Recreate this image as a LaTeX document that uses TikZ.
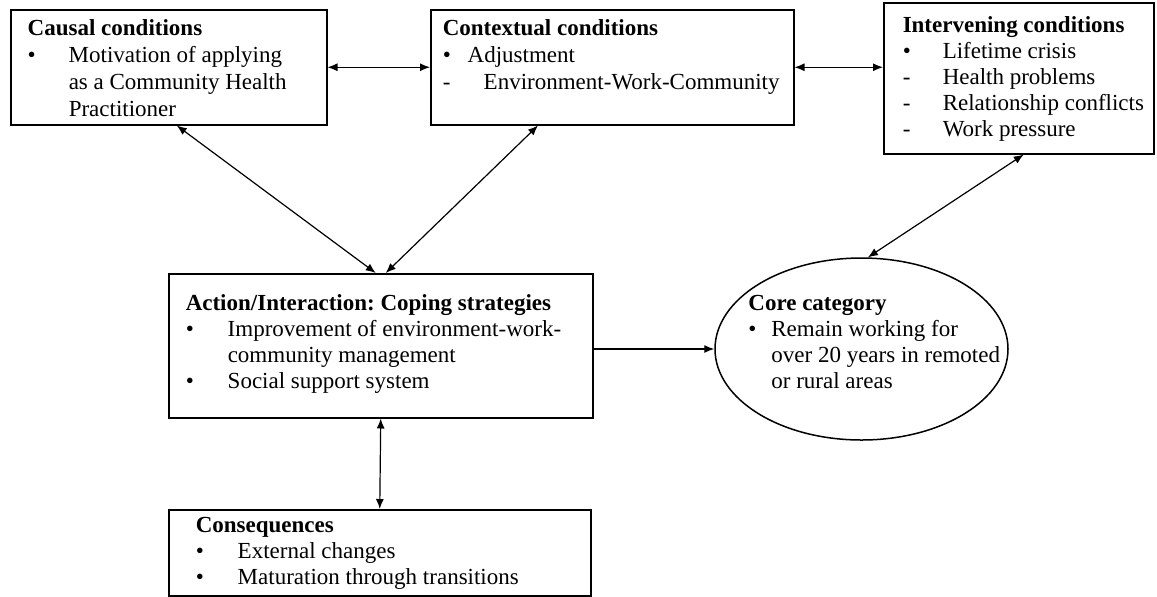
\documentclass[tikz,border=0pt]{standalone}
\usepackage{fontspec}
\setmainfont{Liberation Serif}
\usetikzlibrary{shapes.geometric, arrows.meta}
\frenchspacing

% top-aligned text block of fixed size: width, height, top skip, body
\newcommand{\boxtext}[4]{\parbox[c][#2][t]{#1}{\vspace*{#3}#4}}
\newcommand{\bul}[1]{\makebox[#1][l]{\textbullet}}
\newcommand{\dsh}[1]{\makebox[#1][l]{-}}

\begin{document}
\begin{tikzpicture}[x=0.5pt, y=-0.5pt, font=\fontsize{11.5}{13}\selectfont,
                    >={Latex[length=5pt, width=4pt]}]
    \tikzstyle{rect} = [shape=rectangle, draw, line width=0.75pt, inner sep=0pt, anchor=north west]
    \tikzstyle{oval} = [shape=ellipse, draw, line width=0.75pt, inner sep=0pt,
                        minimum width=146.5pt, minimum height=91pt]
    \tikzstyle{conn} = [line width=0.6pt]

    \useasboundingbox (0,0) rectangle (1157,596);

    \node[rect] (causal) at (10,9) {\boxtext{158pt}{57.5pt}{5pt}{\leftskip=8.5pt
        \baselineskip=13.5pt
        \textbf{Causal conditions}\\
        \bul{20.5pt}Motivation of applying\\
        \hspace*{20.5pt}as a Community Health\\
        \hspace*{20.5pt}Practitioner}};

    \node[rect] (ctx) at (430,9) {\boxtext{181.5pt}{57.5pt}{5pt}{\leftskip=6pt
        \baselineskip=13.5pt
        \textbf{Contextual conditions}\\
        \bul{12.5pt}Adjustment\\
        \dsh{20.5pt}Environment-Work-Community}};

    \node[rect] (interv) at (883,2) {\boxtext{135pt}{75.5pt}{7pt}{\leftskip=9.5pt
        \textbf{Intervening conditions}\\
        \bul{20pt}Lifetime crisis\\
        \dsh{20pt}Health problems\\
        \dsh{20pt}Relationship conflicts\\
        \dsh{20pt}Work pressure}};

    \node[rect] (act) at (168,273) {\boxtext{212pt}{72pt}{10.5pt}{\leftskip=8.5pt
        \textbf{Action/Interaction: Coping strategies}\\
        \bul{21pt}Improvement of environment-work-\\
        \hspace*{21pt}community management\\
        \bul{21pt}Social support system}};

    \node[rect] (cons) at (168,509) {\boxtext{211pt}{43pt}{4pt}{\leftskip=13.5pt
        \textbf{Consequences}\\
        \bul{21pt}External changes\\
        \bul{21pt}Maturation through transitions}};

    \node[oval] (core) at (861.5,349) {};
    \node[anchor=north west, inner sep=0pt, align=left] (coretxt) at (748,295)
        {\textbf{Core category}\\
         \bul{11.5pt}Remain working for\\
         \hspace*{11.5pt}over 20 years in remoted\\
         \hspace*{11.5pt}or rural areas};

    \draw[conn, <->] (causal.east) -- (ctx.west);
    \draw[conn, <->] (ctx.east) -- (ctx.east -| interv.west);

    \draw[conn, <->] ([xshift=4pt]causal.south) -- ([xshift=-2.5pt]act.north);
    \draw[conn, <->] ([xshift=54pt]ctx.south west) -- ([xshift=2.5pt]act.north);
    \draw[conn, <->] ([xshift=2.5pt]interv.south) -- (core.86);

    \draw[conn, ->] (act.east |- core.west) -- (core.west);
    \draw[conn, <->] (act.south) -- (cons.north);

\end{tikzpicture}
\end{document}
